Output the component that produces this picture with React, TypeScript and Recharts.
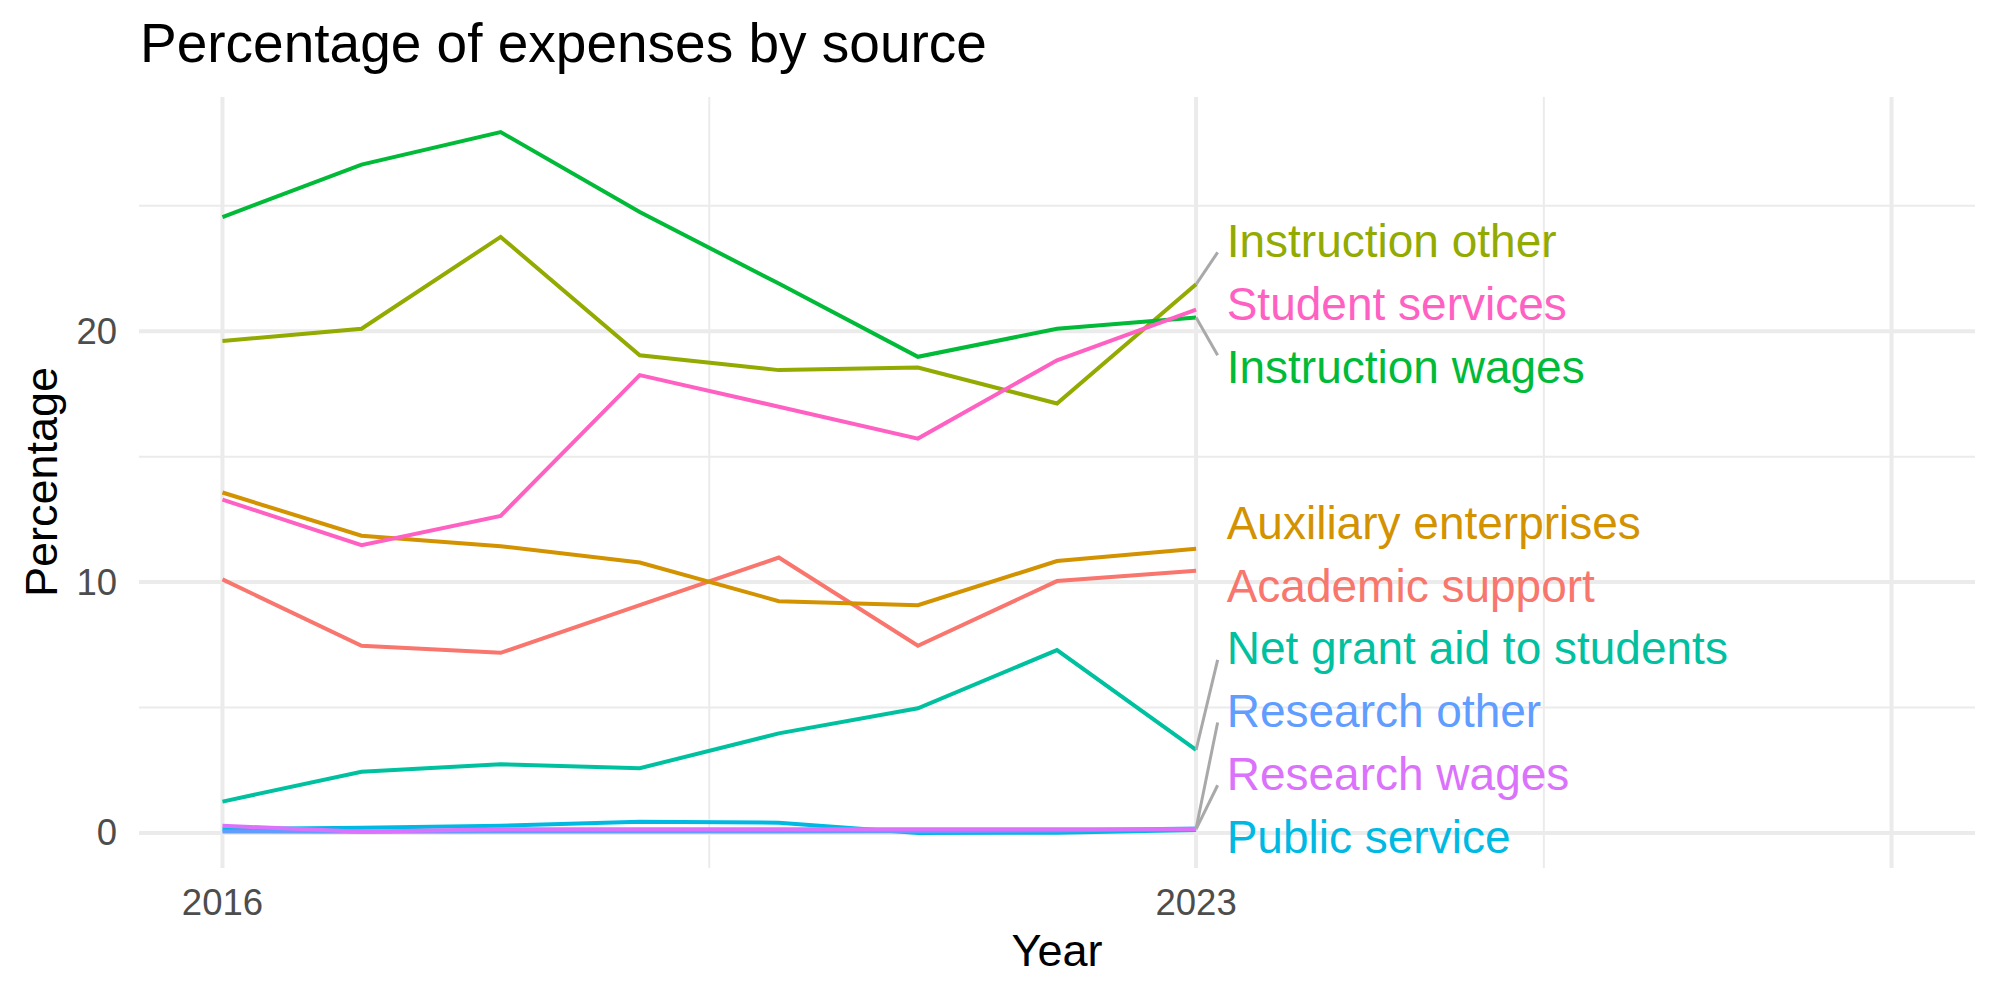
import React from 'react'
import { CartesianGrid, Line, LineChart, ReferenceDot, ReferenceLine, XAxis, YAxis } from 'recharts'

const years = [2016, 2017, 2018, 2019, 2020, 2021, 2022, 2023]

// one array per expense source, in percent
const academicSupport = [10.11, 7.46, 7.18, 9.08, 10.98, 7.46, 10.04, 10.45]
const auxiliaryEnterprises = [13.57, 11.85, 11.43, 10.78, 9.24, 9.08, 10.84, 11.33]
const instructionOther = [19.61, 20.1, 23.76, 19.04, 18.45, 18.55, 17.12, 21.87]
const instructionWages = [24.55, 26.64, 27.94, 24.75, 21.9, 18.98, 20.1, 20.55]
const netGrantAid = [1.25, 2.44, 2.74, 2.58, 3.97, 4.97, 7.29, 3.31]
const publicService = [0.15, 0.21, 0.29, 0.45, 0.41, 0.0, 0.01, 0.12]
const researchOther = [0.06, 0.05, 0.06, 0.06, 0.06, 0.07, 0.1, 0.18]
const researchWages = [0.29, 0.05, 0.15, 0.15, 0.15, 0.15, 0.15, 0.15]
const studentServices = [13.29, 11.47, 12.64, 18.25, 16.99, 15.72, 18.84, 20.86]

const sourceNames = [
  'Academic support',
  'Auxiliary enterprises',
  'Instruction other',
  'Instruction wages',
  'Net grant aid to students',
  'Public service',
  'Research other',
  'Research wages',
  'Student services',
]
const sourceValues = [
  academicSupport,
  auxiliaryEnterprises,
  instructionOther,
  instructionWages,
  netGrantAid,
  publicService,
  researchOther,
  researchWages,
  studentServices,
]

const xBreaks = [2016, 2023, 2028]
const xBreakLabels = ['2016', '2023', '']
const xMinor = [2019.5, 2025.5]
const yBreaks = [0, 10, 20]
const yMinor = [5, 15, 25]

// ggplot hue palette, 9 levels
const palette = ['#F8766D', '#D39200', '#93AA00', '#00BA38', '#00C19F', '#00B9E3', '#619CFF', '#DB72FB', '#FF61C3']

const FONT = '"Liberation Sans", Arial, Helvetica, sans-serif'
const GRID = '#EBEBEB'

const data = years.map((year, i) => {
  const row: Record<string, number> = { year }
  sourceNames.forEach((name, k) => {
    row[name] = sourceValues[k][i]
  })
  return row
})

const expand = (lo: number, hi: number): [number, number] => {
  const pad = (hi - lo) * 0.05
  return [lo - pad, hi + pad]
}

const allValues = sourceValues.flat()
const xDomain = expand(xBreaks[0], xBreaks[xBreaks.length - 1])
const yDomain = expand(Math.min(...allValues), Math.max(...allValues))

// simple repel: stack overlapping labels around the mean of their end values
const LABEL_GAP = 2.5
type Lab = { name: string; color: string; value: number; y: number }

const layoutLabels = (): Lab[] => {
  const lower = yDomain[0] + LABEL_GAP / 2
  const upper = yDomain[1] - LABEL_GAP / 2
  const ends = sourceNames
    .map((name, k) => ({ name, color: palette[k], value: sourceValues[k][years.length - 1] }))
    .sort((a, b) => b.value - a.value)

  const place = (items: typeof ends) => {
    const n = items.length
    const half = ((n - 1) / 2) * LABEL_GAP
    const mean = items.reduce((s, d) => s + d.value, 0) / n
    const center = Math.min(Math.max(mean, lower + half), upper - half)
    return { items, top: center + half, bottom: center - half }
  }

  let clusters = ends.map((e) => place([e]))
  let merged = true
  while (merged) {
    merged = false
    for (let i = 0; i < clusters.length - 1; i++) {
      if (clusters[i].bottom - clusters[i + 1].top < LABEL_GAP) {
        const joined = place([...clusters[i].items, ...clusters[i + 1].items])
        clusters = [...clusters.slice(0, i), joined, ...clusters.slice(i + 2)]
        merged = true
        break
      }
    }
  }

  const out: Lab[] = []
  clusters.forEach((c) => {
    c.items.forEach((d, j) => out.push({ ...d, y: c.top - j * LABEL_GAP }))
  })
  return out
}

const labels = layoutLabels()
const lastYear = years[years.length - 1]
const LABEL_X = lastYear + 0.22
const SEGMENT_X = lastYear + 0.155

const XTick = (props: any) => {
  const i = xBreaks.indexOf(props.payload.value)
  return (
    <text x={props.x} y={915} textAnchor="middle" fill="#4D4D4D" fontSize={36.5} fontFamily={FONT}>
      {xBreakLabels[i]}
    </text>
  )
}

const YTick = (props: any) => (
  <text x={117} y={props.y} textAnchor="end" dominantBaseline="central" fill="#4D4D4D" fontSize={36.5} fontFamily={FONT}>
    {props.payload.value}
  </text>
)

const ExpensesChart = () => {
  return (
    <div style={{ position: 'absolute', left: 0, top: 0, width: 2000, height: 1000, background: '#fff' }}>
      <LineChart width={2000} height={1000} data={data} margin={{ top: 97, right: 25, bottom: 0, left: 0 }}>
        <CartesianGrid stroke={GRID} strokeWidth={2} horizontalValues={yMinor} verticalValues={xMinor} />
        <CartesianGrid stroke={GRID} strokeWidth={4} horizontalValues={yBreaks} verticalValues={xBreaks} />
        <XAxis
          dataKey="year"
          type="number"
          domain={xDomain}
          ticks={xBreaks}
          interval={0}
          allowDataOverflow
          height={132}
          tickLine={false}
          axisLine={false}
          tick={<XTick />}
        />
        <YAxis
          type="number"
          domain={yDomain}
          ticks={yBreaks}
          interval={0}
          allowDataOverflow
          width={139}
          tickLine={false}
          axisLine={false}
          tick={<YTick />}
        />
        {sourceNames.map((name, k) => (
          <Line
            key={name}
            type="linear"
            dataKey={name}
            stroke={palette[k]}
            strokeWidth={4}
            dot={false}
            activeDot={false}
            isAnimationActive={false}
          />
        ))}
        {labels
          .filter((l) => Math.abs(l.y - l.value) > 1.5)
          .map((l) => {
            const endY = Math.min(Math.max(l.value, l.y - 0.45), l.y + 0.45)
            return (
              <ReferenceLine
                key={'seg-' + l.name}
                segment={[
                  { x: lastYear, y: l.value },
                  { x: SEGMENT_X, y: endY },
                ]}
                stroke="#A9A9A9"
                strokeWidth={3}
                ifOverflow="visible"
              />
            )
          })}
        {labels.map((l) => (
          <ReferenceDot
            key={'lab-' + l.name}
            x={LABEL_X}
            y={l.y}
            r={0}
            ifOverflow="visible"
            shape={(p: any) => (
              <text x={p.cx} y={p.cy} textAnchor="start" dominantBaseline="central" fill={l.color} fontSize={46} fontFamily={FONT}>
                {l.name}
              </text>
            )}
          />
        ))}
      </LineChart>
      <svg width={2000} height={1000} style={{ position: 'absolute', left: 0, top: 0, pointerEvents: 'none' }}>
        <text x={140} y={62} fontSize={55} fontFamily={FONT} fill="#000">
          Percentage of expenses by source
        </text>
        <text x={1057} y={966} textAnchor="middle" fontSize={45} fontFamily={FONT} fill="#000">
          Year
        </text>
        <text
          x={57}
          y={482}
          transform="rotate(-90 57 482)"
          textAnchor="middle"
          fontSize={45}
          fontFamily={FONT}
          fill="#000"
        >
          Percentage
        </text>
      </svg>
    </div>
  )
}

export default function App() {
  return <ExpensesChart />
}
